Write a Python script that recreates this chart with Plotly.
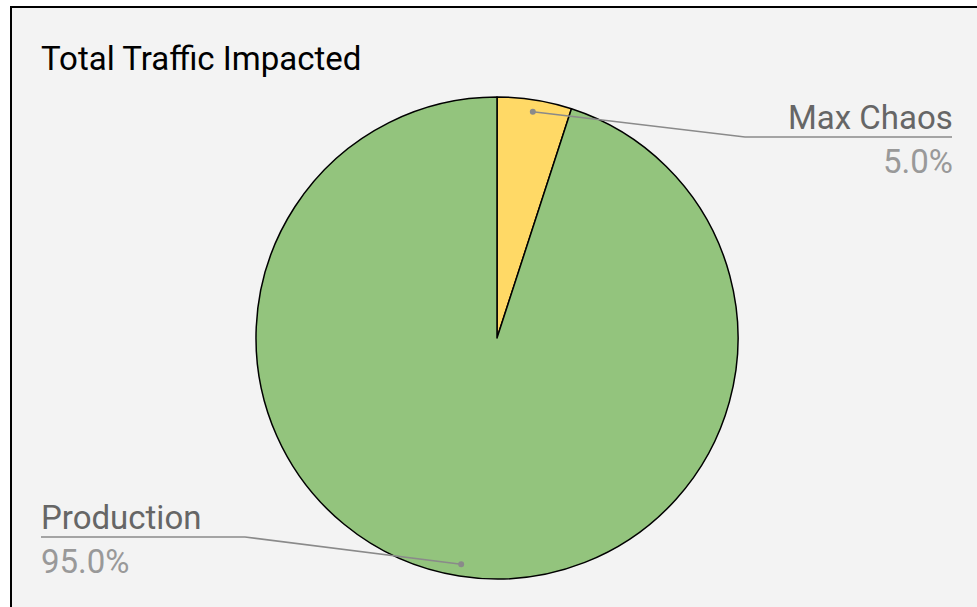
import math
import plotly.graph_objects as go

# ---- data ----
labels = ["Max Chaos", "Production"]
values = [5.0, 95.0]
colors = ["#ffd966", "#93c47d"]
title_text = "Total Traffic Impacted"

W, H = 977, 607
CX, CY, R = 497, 338, 241          # pie centre / radius in pixels
FONT = "Roboto"
FS = 33

def px(x):
    return x / W

def py(y):
    return 1 - y / H

fig = go.Figure()
fig.add_trace(go.Pie(
    labels=labels,
    values=values,
    sort=False,
    direction="clockwise",
    rotation=0,
    marker=dict(colors=colors, line=dict(color="#000000", width=1.5)),
    textinfo="none",
    hoverinfo="label+percent",
    showlegend=False,
    domain=dict(x=[px(CX - R), px(CX + R)], y=[py(CY + R), py(CY - R)]),
))

shapes = []
# outer frame
shapes.append(dict(type="rect", xref="paper", yref="paper",
                   x0=px(11), x1=px(W + 20), y0=py(H + 20), y1=py(7),
                   fillcolor="#f3f3f3", line=dict(color="#000000", width=2),
                   layer="below"))

annotations = [dict(text=title_text, x=px(39), y=py(58), xref="paper", yref="paper",
                    xanchor="left", yanchor="middle", showarrow=False,
                    font=dict(family=FONT, size=FS, color="#000000"))]

total = sum(values)
cum = 0.0
layout_cfg = [
    dict(elbow_x=745, end_x=952, line_y=137, anchor="right", shift=3),
    dict(elbow_x=245, end_x=41, line_y=537, anchor="left", shift=-2),
]
for i, (lab, val) in enumerate(zip(labels, values)):
    mid = (cum + val / 2) / total * 2 * math.pi
    cum += val
    dx = math.sin(mid) * R * 0.95
    dy = -math.cos(mid) * R * 0.95
    ax, ay = CX + dx, CY + dy
    cfg = layout_cfg[i]
    ly = cfg["line_y"]
    shapes.append(dict(type="path", xref="paper", yref="paper",
                       path=f"M {px(ax)} {py(ay)} L {px(cfg['elbow_x'])} {py(ly)} L {px(cfg['end_x'])} {py(ly)}",
                       line=dict(color="#8a8a8a", width=1.5), layer="above"))
    rr = 3
    shapes.append(dict(type="circle", xref="paper", yref="paper",
                       x0=px(ax - rr), x1=px(ax + rr), y0=py(ay + rr), y1=py(ay - rr),
                       fillcolor="#8a8a8a", line=dict(width=0), layer="above"))
    pct = f"{val / total * 100:.1f}%"
    tx = px(cfg["end_x"] + cfg["shift"])
    annotations.append(dict(text=lab, x=tx, y=py(ly - 20), xref="paper", yref="paper",
                            xanchor=cfg["anchor"], yanchor="middle", showarrow=False,
                            font=dict(family=FONT, size=FS, color="#666666")))
    annotations.append(dict(text=pct, x=tx, y=py(ly + 24), xref="paper", yref="paper",
                            xanchor=cfg["anchor"], yanchor="middle", showarrow=False,
                            font=dict(family=FONT, size=FS, color="#999999")))

fig.update_layout(
    width=W, height=H,
    margin=dict(l=0, r=0, t=0, b=0),
    paper_bgcolor="#ffffff",
    plot_bgcolor="#ffffff",
    shapes=shapes,
    annotations=annotations,
    showlegend=False,
)

fig.write_html("out.html")
